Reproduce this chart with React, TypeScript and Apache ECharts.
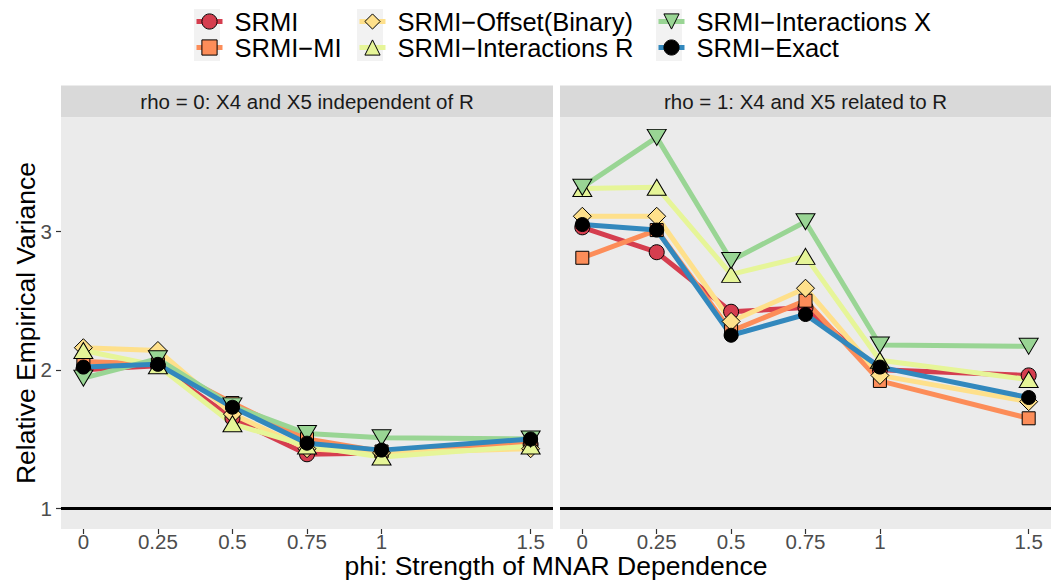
import React, { useEffect, useRef } from "react";
import * as echarts from "echarts";

// ---- data ----
const phi = [0, 0.25, 0.5, 0.75, 1, 1.5];
const xTicks = [0, 0.25, 0.5, 0.75, 1, 1.5];
const yTicks = [1, 2, 3];
const methods = [
  "SRMI",
  "SRMI−MI",
  "SRMI−Offset(Binary)",
  "SRMI−Interactions R",
  "SRMI−Interactions X",
  "SRMI−Exact",
];
const panels = ["rho = 0: X4 and X5 independent of R", "rho = 1: X4 and X5 related to R"];
const xTitle = "phi: Strength of MNAR Dependence";
const yTitle = "Relative Empirical Variance";
const reference = 1;

// rho = 0
const srmi0 = [2.0, 2.03, 1.65, 1.39, 1.4, 1.46];
const srmiMI0 = [2.06, 2.04, 1.76, 1.5, 1.41, 1.47];
const offset0 = [2.16, 2.14, 1.68, 1.43, 1.4, 1.43];
const interR0 = [2.14, 2.03, 1.61, 1.45, 1.37, 1.45];
const interX0 = [1.94, 2.08, 1.74, 1.54, 1.51, 1.5];
const exact0 = [2.02, 2.04, 1.73, 1.47, 1.42, 1.5];

// rho = 1
const srmi1 = [3.03, 2.85, 2.42, 2.45, 2.0, 1.96];
const srmiMI1 = [2.81, 3.01, 2.28, 2.5, 1.92, 1.65];
const offset1 = [3.11, 3.11, 2.35, 2.59, 1.96, 1.77];
const interR1 = [3.31, 3.32, 2.69, 2.82, 2.07, 1.93];
const interX1 = [3.32, 3.68, 2.79, 3.07, 2.18, 2.17];
const exact1 = [3.05, 3.01, 2.25, 2.4, 2.02, 1.8];

// ---- styles ----
const FONT = '"Liberation Sans", Arial, Helvetica, sans-serif';
const lineColors = ["#D53E4F", "#FC8D59", "#FEE08B", "#E6F598", "#99D594", "#3288BD"];
const fillColors = ["#D53E4F", "#FC8D59", "#FEE08B", "#E6F598", "#99D594", "#000000"];
const symbols = ["circle", "rect", "diamond", "triangle", "triangle", "circle"];
const symbolSizes: any[] = [15, 13, [18, 18], [19, 16], [19, 16], 14];
const symbolRotates = [0, 0, 0, 0, 180, 0];

const gridsPos = [
  { left: 61, top: 118, width: 492, height: 411 },
  { left: 560, top: 118, width: 491, height: 411 },
];

export default function App() {
  const ref = useRef<HTMLDivElement>(null);
  useEffect(() => {
    if (!ref.current) return;
    const chart = echarts.init(ref.current, undefined, { renderer: "svg" });
    const panelData = [
      [srmi0, srmiMI0, offset0, interR0, interX0, exact0],
      [srmi1, srmiMI1, offset1, interR1, interX1, exact1],
    ];
    const series: any[] = [];
    panelData.forEach((_, p) => {
      series.push({
        type: "line",
        xAxisIndex: p,
        yAxisIndex: p,
        data: [],
        silent: true,
        z: 1,
        markLine: {
          silent: true,
          symbol: "none",
          label: { show: false },
          lineStyle: { color: "#000", width: 3, type: "solid" },
          data: [{ yAxis: reference }],
        },
      });
    });
    panelData.forEach((set, p) =>
      set.forEach((vals, m) => {
        series.push({
          type: "line",
          name: methods[m],
          xAxisIndex: p,
          yAxisIndex: p,
          data: phi.map((x, i) => [x, vals[i]]),
          showSymbol: false,
          symbol: symbols[m],
          symbolSize: symbolSizes[m],
          symbolRotate: symbolRotates[m],
          lineStyle: { color: lineColors[m], width: 5 },
          itemStyle: { color: fillColors[m], borderColor: "#000", borderWidth: 1 },
          z: 2,
        });
      })
    );
    panelData.forEach((set, p) =>
      set.forEach((vals, m) => {
        series.push({
          type: "scatter",
          name: methods[m],
          xAxisIndex: p,
          yAxisIndex: p,
          data: phi.map((x, i) => [x, vals[i]]),
          symbol: symbols[m],
          symbolSize: symbolSizes[m],
          symbolRotate: symbolRotates[m],
          itemStyle: { color: fillColors[m], borderColor: "#000", borderWidth: 1, opacity: 1 },
          z: 3,
        });
      })
    );

    const legendCols = [
      { left: 194, names: [0, 1] },
      { left: 357, names: [2, 3] },
      { left: 656, names: [4, 5] },
    ];
    const legends = legendCols.map((c) => ({
      orient: "vertical",
      left: c.left,
      top: 8.5,
      padding: 0,
      itemGap: 0,
      itemWidth: 26,
      itemHeight: 19,
      selectedMode: false,
      lineStyle: { width: 5 },
      textStyle: {
        fontFamily: FONT,
        fontSize: 25.5,
        color: "#000",
        lineHeight: 26,
        padding: [0, 0, 0, 7],
      },
      data: c.names.map((m) => ({
        name: methods[m],
        itemStyle: { color: fillColors[m], borderColor: "#000", borderWidth: 1 },
        lineStyle: { color: lineColors[m], width: 5 },
      })),
    }));

    const keyBgs: any[] = [];
    legendCols.forEach((c) => {
      [0, 1].forEach((r) => {
        keyBgs.push({
          type: "rect",
          z: 0,
          shape: { x: c.left, y: 9 + r * 26, width: 26, height: 26 },
          style: { fill: "#F2F2F2" },
          silent: true,
        });
      });
    });

    const strips: any[] = [];
    gridsPos.forEach((g, p) => {
      strips.push({
        type: "rect",
        shape: { x: g.left, y: 85.5, width: g.width, height: 32 },
        style: { fill: "#D9D9D9" },
        silent: true,
      });
      strips.push({
        type: "text",
        x: g.left + g.width / 2,
        y: 101.5,
        style: {
          text: panels[p],
          fontFamily: FONT,
          fontSize: 20.5,
          fill: "#1A1A1A",
          align: "center",
          verticalAlign: "middle",
        },
        silent: true,
      });
    });

    const option: any = {
      animation: false,
      textStyle: { fontFamily: FONT },
      grid: gridsPos.map((g) => ({
        ...g,
        show: true,
        backgroundColor: "#EBEBEB",
        borderWidth: 0,
        containLabel: false,
        outerBoundsMode: "none",
      })),
      xAxis: gridsPos.map((_, p) => ({
        type: "value",
        gridIndex: p,
        min: -0.075,
        max: 1.575,
        splitLine: { show: false },
        axisLine: { show: true, onZero: false, lineStyle: { color: "rgba(0,0,0,0)" } },
        axisTick: {
          show: true,
          customValues: xTicks,
          length: 5,
          lineStyle: { color: "#333333", width: 1.2 },
        },
        axisLabel: {
          customValues: xTicks,
          color: "#4D4D4D",
          fontSize: 20.5,
          fontFamily: FONT,
          margin: 3,
          lineHeight: 18,
          formatter: (v: number) => String(v),
        },
      })),
      yAxis: gridsPos.map((_, p) => ({
        type: "value",
        gridIndex: p,
        min: 0.85,
        max: 3.82,
        splitLine: { show: false },
        axisLine: { show: p === 0, onZero: false, lineStyle: { color: "rgba(0,0,0,0)" } },
        axisTick: {
          show: p === 0,
          customValues: yTicks,
          length: 5,
          lineStyle: { color: "#333333", width: 1.2 },
        },
        axisLabel: {
          show: p === 0,
          customValues: yTicks,
          color: "#4D4D4D",
          fontSize: 20.5,
          fontFamily: FONT,
          margin: 9,
          formatter: (v: number) => String(v),
        },
      })),
      legend: legends,
      graphic: {
        elements: [
          ...keyBgs,
          ...strips,
          {
            type: "text",
            x: 556,
            y: 566,
            style: {
              text: xTitle,
              fontFamily: FONT,
              fontSize: 26.5,
              lineHeight: 20,
              fill: "#000",
              align: "center",
              verticalAlign: "middle",
            },
            silent: true,
          },
          {
            type: "text",
            x: 26,
            y: 323,
            rotation: Math.PI / 2,
            style: {
              text: yTitle,
              fontFamily: FONT,
              fontSize: 26.5,
              fill: "#000",
              align: "center",
              verticalAlign: "middle",
            },
            silent: true,
          },
        ],
      },
      series,
    };
    chart.setOption(option);
    return () => chart.dispose();
  }, []);
  return (
    <div
      ref={ref}
      style={{ position: "fixed", left: 0, top: 0, width: 1052, height: 582, background: "#fff" }}
    />
  );
}
